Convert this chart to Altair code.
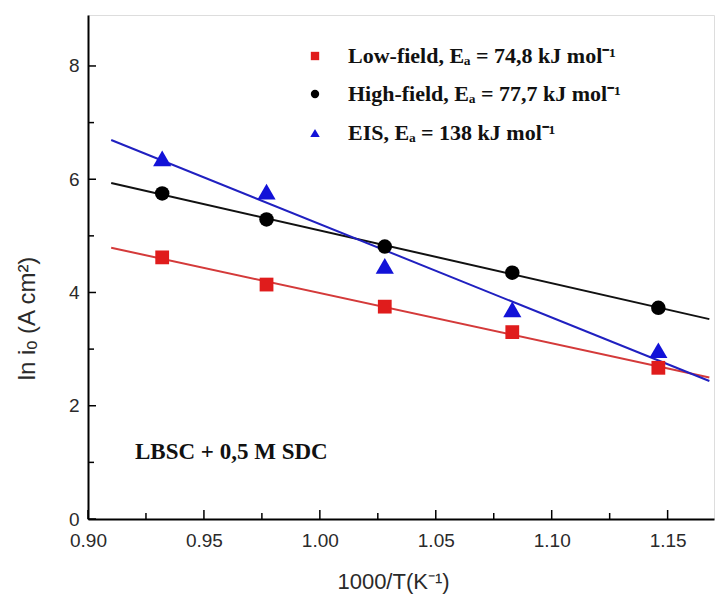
import altair as alt
import pandas as pd

# ---- data ----
inv_T = [0.932, 0.977, 1.028, 1.083, 1.146]
low_field = [4.62, 4.14, 3.75, 3.30, 2.67]
high_field = [5.75, 5.29, 4.81, 4.35, 3.73]
eis = [6.37, 5.78, 4.47, 3.70, 2.98]

series_names = ["Low-field", "High-field", "EIS"]
legend_labels = [
    "Low-field, Eₐ = 74,8 kJ mol⁻¹",
    "High-field, Eₐ = 77,7 kJ mol⁻¹",
    "EIS, Eₐ = 138 kJ mol⁻¹",
]
marker_colors = ["#e01c1c", "#000000", "#1212d8"]
line_colors = ["#d43a3a", "#111111", "#2020c0"]
shapes = ["square", "circle", "triangle-up"]
marker_sizes = [190, 210, 330]

x_major = [0.90, 0.95, 1.00, 1.05, 1.10, 1.15]
x_minor = [0.925, 0.975, 1.025, 1.075, 1.125]
y_major = [0, 2, 4, 6, 8]
y_minor = [1, 3, 5, 7]
fit_extent = [0.91, 1.168]
annotation = "LBSC + 0,5 M SDC"

W, H = 626, 504
XDOM = [0.90, 1.17]
YDOM = [0, 8.9]

rows = []
for name, vals in zip(series_names, [low_field, high_field, eis]):
    for xv, yv in zip(inv_T, vals):
        rows.append({"x": xv, "y": yv, "series": name})
df = pd.DataFrame(rows)

xs = alt.Scale(domain=XDOM, nice=False, zero=False)
ys = alt.Scale(domain=YDOM, nice=False, zero=False)

x_axis = alt.Axis(
    values=x_major, format=".2f", ticks=False, grid=False,
    domainColor="black", domainWidth=2,
    labelFont="Liberation Sans", labelFontSize=19, labelColor="#2a2a2a",
    labelPadding=12, labelFlush=False,
    title="1000/T(K⁻¹)", titleFont="Liberation Sans", titleFontSize=22,
    titleFontWeight="normal", titleColor="#2a2a2a",
    titleX=305, titleY=62, titleBaseline="middle", titleAnchor="middle", titleAlign="center",
)
y_axis = alt.Axis(
    values=y_major, format="d", ticks=False, grid=False,
    domainColor="black", domainWidth=2,
    labelFont="Liberation Sans", labelFontSize=19, labelColor="#2a2a2a",
    labelPadding=9, labelFlush=False,
    title="ln iₒ (A cm²)", titleFont="Liberation Sans", titleFontSize=24,
    titleFontWeight="normal", titleColor="#2a2a2a",
    titleX=-61, titleY=303, titleBaseline="middle", titleAlign="center",
)

color_line = alt.Color("series:N", scale=alt.Scale(domain=series_names, range=line_colors), legend=None)

base = alt.Chart(df)

lines = base.transform_regression(
    "x", "y", groupby=["series"], extent=fit_extent
).mark_line(strokeWidth=2).encode(
    x=alt.X("x:Q", scale=xs, axis=x_axis),
    y=alt.Y("y:Q", scale=ys, axis=y_axis),
    color=color_line,
)

point_layers = []
for i, name in enumerate(series_names):
    point_layers.append(
        base.transform_filter(alt.datum.series == name).mark_point(
            filled=True, opacity=1, shape=shapes[i], color=marker_colors[i], size=marker_sizes[i]
        ).encode(
            x=alt.X("x:Q", scale=xs),
            y=alt.Y("y:Q", scale=ys),
        )
    )

# inward tick marks
xt_major = alt.Chart(pd.DataFrame({"x": x_major})).mark_rule(color="black", strokeWidth=1.5).encode(
    x=alt.X("x:Q", scale=xs), y=alt.value(H), y2=alt.value(H - 9))
xt_minor = alt.Chart(pd.DataFrame({"x": x_minor})).mark_rule(color="black", strokeWidth=1.5).encode(
    x=alt.X("x:Q", scale=xs), y=alt.value(H), y2=alt.value(H - 6))
yt_major = alt.Chart(pd.DataFrame({"y": y_major})).mark_rule(color="black", strokeWidth=1.5).encode(
    y=alt.Y("y:Q", scale=ys), x=alt.value(0), x2=alt.value(8))
yt_minor = alt.Chart(pd.DataFrame({"y": y_minor})).mark_rule(color="black", strokeWidth=1.5).encode(
    y=alt.Y("y:Q", scale=ys), x=alt.value(0), x2=alt.value(6))

# manual legend
legend_layers = []
leg_y = [41, 79, 118]
leg_sizes = [70, 70, 90]
for i in range(3):
    ldf = pd.DataFrame({"label": [legend_labels[i]]})
    legend_layers.append(
        alt.Chart(ldf).mark_point(filled=True, opacity=1, shape=shapes[i], color=marker_colors[i],
                                  size=leg_sizes[i]).encode(
            x=alt.value(227), y=alt.value(leg_y[i]))
    )
    legend_layers.append(
        alt.Chart(ldf).mark_text(align="left", baseline="middle", font="Liberation Serif",
                                 fontWeight="bold", fontSize=22, color="#111").encode(
            x=alt.value(260), y=alt.value(leg_y[i]), text="label:N")
    )

note = alt.Chart(pd.DataFrame({"t": [annotation]})).mark_text(
    align="left", baseline="middle", font="Liberation Serif", fontWeight="bold", fontSize=23, color="#111"
).encode(x=alt.value(47), y=alt.value(437), text="t:N")

chart = alt.layer(
    lines, xt_major, xt_minor, yt_major, yt_minor, *point_layers, note, *legend_layers
).properties(
    width=W, height=H,
    autosize=alt.AutoSizeParams(type="none"),
    padding={"left": 88, "top": 15, "right": 4, "bottom": 81},
).configure_view(stroke=None).configure(background="white")

chart.save("out.html", embed_options={"renderer": "svg", "actions": False})
